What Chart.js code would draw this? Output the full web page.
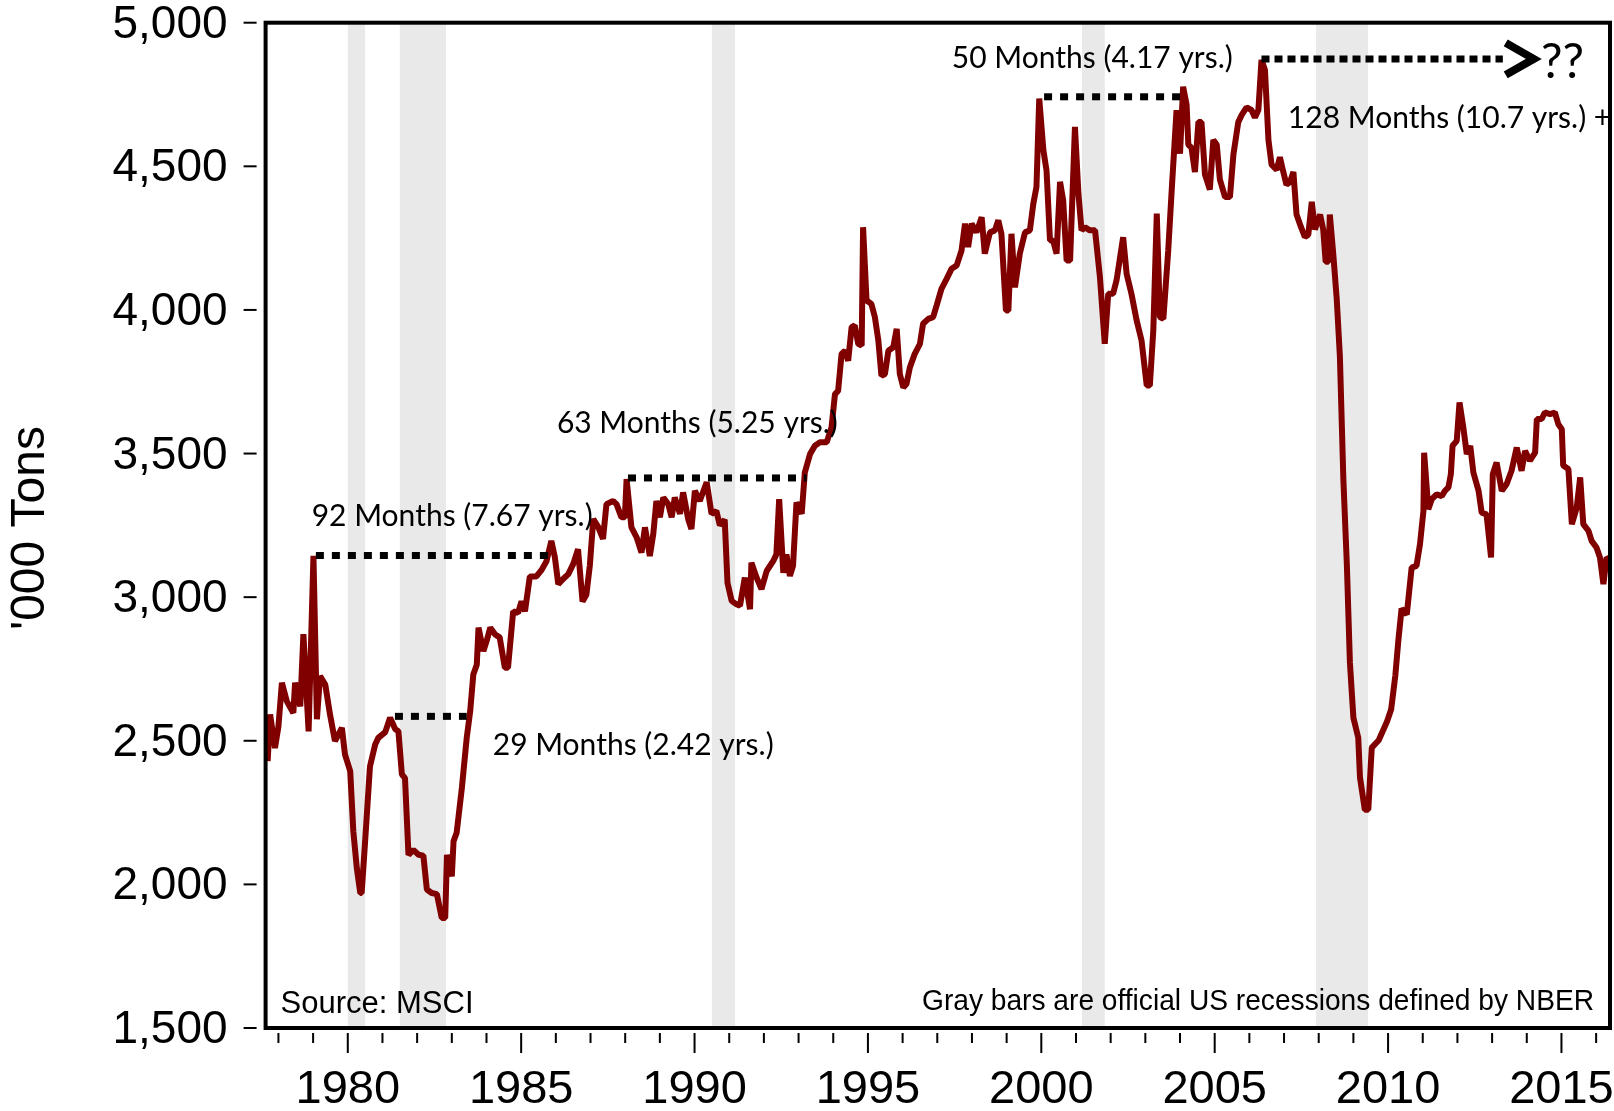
<!DOCTYPE html>
<html>
<head>
<meta charset="utf-8">
<title>'000 Tons</title>
<script src="https://cdn.jsdelivr.net/npm/chart.js@4.4.1/dist/chart.umd.min.js"></script>
<style>
  html, body { margin: 0; padding: 0; background: #fff; }
  .wrap { position: relative; width: 1614px; height: 1111px; }
</style>
</head>
<body>
<div class="wrap"><canvas id="tonsChart"></canvas></div>
<script>
// ── Data (decimal years, '000 tons) ──
const years = [
  1977.69, 1977.76, 1977.90, 1978.00, 1978.10, 1978.24, 1978.43, 1978.48, 1978.63, 1978.72,
  1978.87, 1979.01, 1979.11, 1979.20, 1979.35, 1979.49, 1979.63, 1979.83, 1979.92, 1980.07,
  1980.16, 1980.26, 1980.36, 1980.40, 1980.50, 1980.64, 1980.79, 1980.88, 1981.08, 1981.22,
  1981.37, 1981.46, 1981.56, 1981.65, 1981.75, 1981.89, 1982.04, 1982.18, 1982.28, 1982.42,
  1982.57, 1982.71, 1982.81, 1982.86, 1983.00, 1983.05, 1983.14, 1983.29, 1983.43, 1983.53,
  1983.62, 1983.72, 1983.77, 1983.91, 1984.01, 1984.11, 1984.25, 1984.38, 1984.53, 1984.62,
  1984.77, 1984.91, 1985.01, 1985.11, 1985.25, 1985.44, 1985.59, 1985.73, 1985.87, 1985.97,
  1986.07, 1986.21, 1986.36, 1986.50, 1986.64, 1986.77, 1986.88, 1986.98, 1987.08, 1987.22,
  1987.36, 1987.46, 1987.65, 1987.75, 1987.89, 1987.99, 1988.04, 1988.18, 1988.33, 1988.47,
  1988.57, 1988.71, 1988.81, 1988.90, 1989.00, 1989.10, 1989.24, 1989.34, 1989.43, 1989.58,
  1989.67, 1989.82, 1989.91, 1990.01, 1990.15, 1990.35, 1990.49, 1990.63, 1990.73, 1990.87,
  1990.95, 1991.07, 1991.21, 1991.31, 1991.45, 1991.60, 1991.64, 1991.79, 1991.93, 1992.08,
  1992.27, 1992.36, 1992.44, 1992.56, 1992.65, 1992.75, 1992.84, 1992.94, 1993.09, 1993.18,
  1993.33, 1993.47, 1993.61, 1993.81, 1993.95, 1994.05, 1994.14, 1994.24, 1994.34, 1994.43,
  1994.53, 1994.62, 1994.72, 1994.82, 1994.86, 1994.96, 1995.10, 1995.20, 1995.30, 1995.39,
  1995.49, 1995.59, 1995.73, 1995.83, 1995.92, 1996.02, 1996.11, 1996.21, 1996.35, 1996.50,
  1996.59, 1996.74, 1996.88, 1996.98, 1997.12, 1997.27, 1997.41, 1997.56, 1997.70, 1997.80,
  1997.89, 1997.99, 1998.13, 1998.28, 1998.37, 1998.52, 1998.66, 1998.76, 1998.85, 1998.98,
  1999.05, 1999.14, 1999.24, 1999.38, 1999.53, 1999.67, 1999.77, 1999.86, 1999.94, 2000.06,
  2000.15, 2000.25, 2000.34, 2000.44, 2000.54, 2000.63, 2000.73, 2000.83, 2000.97, 2001.07,
  2001.16, 2001.26, 2001.40, 2001.55, 2001.69, 2001.83, 2001.93, 2002.07, 2002.17, 2002.36,
  2002.46, 2002.60, 2002.75, 2002.89, 2003.04, 2003.13, 2003.23, 2003.33, 2003.42, 2003.52,
  2003.66, 2003.76, 2003.90, 2004.00, 2004.09, 2004.19, 2004.24, 2004.33, 2004.43, 2004.53,
  2004.62, 2004.72, 2004.86, 2004.96, 2005.06, 2005.15, 2005.30, 2005.44, 2005.54, 2005.68,
  2005.78, 2005.92, 2006.06, 2006.16, 2006.26, 2006.35, 2006.45, 2006.55, 2006.64, 2006.79,
  2006.88, 2006.98, 2007.07, 2007.17, 2007.27, 2007.36, 2007.46, 2007.60, 2007.70, 2007.80,
  2007.89, 2008.04, 2008.13, 2008.20, 2008.28, 2008.32, 2008.42, 2008.52, 2008.61, 2008.71,
  2008.81, 2008.90, 2009.00, 2009.14, 2009.19, 2009.33, 2009.43, 2009.53, 2009.73, 2009.97,
  2010.09, 2010.21, 2010.30, 2010.39, 2010.54, 2010.68, 2010.82, 2010.92, 2011.02, 2011.04,
  2011.16, 2011.26, 2011.40, 2011.55, 2011.64, 2011.74, 2011.81, 2011.86, 2011.98, 2012.06,
  2012.17, 2012.27, 2012.37, 2012.46, 2012.61, 2012.70, 2012.84, 2012.97, 2013.02, 2013.13,
  2013.28, 2013.42, 2013.56, 2013.71, 2013.85, 2013.95, 2014.09, 2014.24, 2014.29, 2014.43,
  2014.52, 2014.67, 2014.81, 2014.91, 2015.01, 2015.05, 2015.20, 2015.30, 2015.44, 2015.54,
  2015.63, 2015.78, 2015.87, 2016.01, 2016.11, 2016.21, 2016.30, 2016.40
];

const tons = [
  2429, 2592, 2475, 2550, 2702, 2638, 2597, 2702, 2620, 2871,
  2533, 3144, 2575, 2725, 2696, 2590, 2499, 2545, 2452, 2394,
  2185, 2057, 1970, 1970, 2150, 2411, 2487, 2510, 2530, 2580,
  2540, 2533, 2383, 2370, 2103, 2120, 2103, 2100, 1982, 1970,
  1966, 1883, 1883, 2103, 2028, 2150, 2180, 2336, 2510, 2603,
  2731, 2765, 2894, 2812, 2850, 2894, 2870, 2860, 2754, 2754,
  2951, 2945, 2985, 2951, 3072, 3072, 3095, 3125, 3196, 3140,
  3045, 3063, 3080, 3115, 3167, 2985, 3008, 3110, 3272, 3245,
  3203, 3324, 3335, 3324, 3278, 3278, 3411, 3243, 3208, 3155,
  3243, 3143, 3220, 3335, 3278, 3347, 3324, 3278, 3347, 3290,
  3365, 3270, 3237, 3370, 3335, 3400, 3290, 3300, 3250, 3270,
  3050, 2987, 2975, 2970, 3068, 2958, 3120, 3068, 3028, 3091,
  3126, 3149, 3341, 3085, 3149, 3074, 3109, 3330, 3290, 3434,
  3498, 3527, 3539, 3539, 3591, 3707, 3718, 3847, 3858, 3823,
  3940, 3946, 3882, 3876, 4288, 4033, 4021, 3975, 3894, 3771,
  3777, 3858, 3870, 3934, 3777, 3730, 3742, 3800, 3847, 3882,
  3952, 3969, 3975, 4015, 4073, 4108, 4143, 4155, 4207, 4300,
  4219, 4300, 4270, 4323, 4196, 4270, 4277, 4312, 4265, 3998,
  3998, 4265, 4079, 4196, 4270, 4277, 4370, 4428, 4736, 4556,
  4486, 4242, 4242, 4196, 4446, 4382, 4172, 4172, 4637, 4405,
  4277, 4288, 4277, 4277, 4115, 3882, 4056, 4056, 4103, 4253,
  4126, 4056, 3963, 3894, 3737, 3737, 3929, 4335, 3975, 3969,
  4207, 4416, 4695, 4544, 4777, 4714, 4575, 4565, 4480, 4654,
  4654, 4471, 4419, 4592, 4575, 4454, 4393, 4393, 4541, 4654,
  4679, 4705, 4696, 4670, 4696, 4870, 4835, 4592, 4506, 4488,
  4532, 4480, 4436, 4445, 4480, 4332, 4298, 4254, 4262, 4376,
  4280, 4332, 4280, 4168, 4168, 4332, 4194, 4037, 3840, 3413,
  3118, 2771, 2580, 2511, 2372, 2260, 2260, 2476, 2502, 2567,
  2610, 2728, 2854, 2960, 2940, 3103, 3109, 3184, 3300, 3503,
  3306, 3341, 3358, 3352, 3370, 3382, 3428, 3527, 3544, 3678,
  3591, 3498, 3527, 3434, 3370, 3294, 3288, 3138, 3428, 3469,
  3370, 3394, 3440, 3521, 3440, 3509, 3475, 3503, 3620, 3620,
  3643, 3637, 3643, 3602, 3585, 3458, 3446, 3254, 3312, 3417,
  3254, 3231, 3196, 3173, 3138, 3045, 3138, 3130
];

// NBER recessions (decimal years)
const recessionStart = [1980.0, 1981.5, 1990.5, 2001.17, 2007.92];
const recessionEnd   = [1980.5, 1982.83, 1991.17, 2001.83, 2009.42];

// Peak-to-recovery gaps
const gapFrom  = [1979.08, 1981.36, 1988.08, 2000.08, 2006.35];
const gapTo    = [1985.80, 1983.43, 1993.23, 2004.00, 2013.31];
const gapLevel = [3145, 2585, 3415, 4742, 4874];
const gapText  = [
  '92 Months (7.67 yrs.)',
  '29 Months (2.42 yrs.)',
  '63 Months (5.25 yrs.)',
  '50 Months (4.17 yrs.)',
  '128 Months (10.7 yrs.) +'
];

// Axis ticks
const yTicks = [1500, 2000, 2500, 3000, 3500, 4000, 4500, 5000];
const xMajor = [1980, 1985, 1990, 1995, 2000, 2005, 2010, 2015];
const xMinorFrom = 1978, xMinorTo = 2016;

const Y_MIN = 1500, Y_MAX = 5000;
const X_MIN = 1977.63, X_MAX = 2016.40;

// ── Helpers ──
const AXIS_FONT = '"Liberation Sans", Arial, sans-serif';
const NOTE_FONT = 'Lato, "Open Sans", sans-serif';

function fmt(v) {
  return v.toLocaleString('en-US');
}

// ── Recession shading ──
const recessionPlugin = {
  id: 'recessions',
  beforeDatasetsDraw(chart) {
    const { ctx, chartArea, scales } = chart;
    ctx.save();
    ctx.fillStyle = '#e9e9e9';
    recessionStart.forEach((s, i) => {
      const x0 = scales.x.getPixelForValue(s);
      const x1 = scales.x.getPixelForValue(recessionEnd[i]);
      ctx.fillRect(x0, chartArea.top, x1 - x0, chartArea.bottom - chartArea.top);
    });
    ctx.restore();
  }
};

// ── Frame, ticks, labels ──
const axesPlugin = {
  id: 'axesFrame',
  afterDatasetsDraw(chart) {
    const { ctx, chartArea, scales } = chart;
    const { left, right, top, bottom } = chartArea;
    ctx.save();

    // frame
    ctx.strokeStyle = '#000';
    ctx.lineWidth = 4;
    ctx.strokeRect(left, top, right - left, bottom - top);

    // y ticks + labels
    ctx.lineWidth = 2;
    ctx.fillStyle = '#000';
    ctx.font = '46px ' + AXIS_FONT;
    ctx.textAlign = 'right';
    ctx.textBaseline = 'alphabetic';
    yTicks.forEach(v => {
      const y = scales.y.getPixelForValue(v);
      ctx.beginPath();
      ctx.moveTo(left - 22, y);
      ctx.lineTo(left - 9, y);
      ctx.stroke();
      ctx.fillText(fmt(v), left - 38, y + 15);
    });

    // x ticks
    for (let yr = xMinorFrom; yr <= xMinorTo; yr++) {
      const x = scales.x.getPixelForValue(yr);
      const major = xMajor.includes(yr);
      ctx.beginPath();
      ctx.moveTo(x, bottom + 5);
      ctx.lineTo(x, bottom + (major ? 25 : 15));
      ctx.stroke();
    }

    // x labels
    ctx.textAlign = 'center';
    ctx.font = '47px ' + AXIS_FONT;
    xMajor.forEach(yr => {
      ctx.fillText(String(yr), scales.x.getPixelForValue(yr), bottom + 75);
    });

    // y title
    ctx.save();
    ctx.translate(44, 528);
    ctx.rotate(-Math.PI / 2);
    ctx.font = '48px ' + AXIS_FONT;
    ctx.textAlign = 'center';
    ctx.fillText("'000 Tons", 0, 0);
    ctx.restore();

    // footnotes
    ctx.font = '31px ' + AXIS_FONT;
    ctx.textAlign = 'left';
    ctx.fillText('Source: MSCI', left + 15, bottom - 15);
    ctx.font = '29px ' + AXIS_FONT;
    ctx.textAlign = 'right';
    ctx.fillText('Gray bars are official US recessions defined by NBER', right - 16, bottom - 18, 672);

    ctx.restore();
  }
};

// ── Gap annotations ──
// label anchors in data units: [year of left edge, value of text middle]
const gapLabelAt = [
  [1978.96, 3280],
  [1984.18, 2485],
  [1986.03, 3606],
  [1997.42, 4875],
  [2007.11, 4667]
];

const gapPlugin = {
  id: 'gaps',
  afterDatasetsDraw(chart) {
    const { ctx, scales } = chart;
    const sx = v => scales.x.getPixelForValue(v);
    const sy = v => scales.y.getPixelForValue(v);
    ctx.save();

    // dotted lines
    ctx.strokeStyle = '#000';
    ctx.lineWidth = 7;
    ctx.lineCap = 'butt';
    gapFrom.forEach((from, i) => {
      ctx.setLineDash(i === 4 ? [8, 5] : [8, 8]);
      ctx.beginPath();
      ctx.moveTo(sx(from), sy(gapLevel[i]));
      ctx.lineTo(sx(gapTo[i]), sy(gapLevel[i]));
      ctx.stroke();
    });
    ctx.setLineDash([]);

    // open-ended arrow on the last gap
    const tipX = sx(2014.2), yMid = sy(gapLevel[4]);
    ctx.lineWidth = 8;
    ctx.lineJoin = 'miter';
    ctx.beginPath();
    ctx.moveTo(tipX - 28, yMid - 16);
    ctx.lineTo(tipX, yMid);
    ctx.lineTo(tipX - 28, yMid + 16);
    ctx.stroke();

    // labels
    ctx.fillStyle = '#000';
    ctx.font = '30px ' + NOTE_FONT;
    ctx.textAlign = 'left';
    ctx.textBaseline = 'middle';
    gapText.forEach((t, i) => {
      ctx.fillText(t, sx(gapLabelAt[i][0]), sy(gapLabelAt[i][1]));
    });
    ctx.font = '48px ' + NOTE_FONT;
    ctx.fillText('??', sx(2014.41), sy(4860));

    ctx.restore();
  }
};

// ── Chart ──
function initTonsChart() {
  const ctx = document.getElementById('tonsChart').getContext('2d');
  new Chart(ctx, {
    type: 'line',
    data: {
      datasets: [{
        data: years.map((yr, i) => ({ x: yr, y: tons[i] })),
        borderColor: '#800000',
        borderWidth: 6,
        borderJoinStyle: 'bevel',
        tension: 0,
        pointRadius: 0,
        fill: false
      }]
    },
    options: {
      responsive: true,
      maintainAspectRatio: false,
      animation: false,
      layout: { padding: { left: 265.6, top: 22.7, right: 4, bottom: 83 } },
      plugins: {
        legend: { display: false },
        tooltip: { enabled: false }
      },
      scales: {
        x: { type: 'linear', min: X_MIN, max: X_MAX, display: false },
        y: { min: Y_MIN, max: Y_MAX, display: false }
      }
    },
    plugins: [recessionPlugin, axesPlugin, gapPlugin]
  });
}

document.addEventListener('DOMContentLoaded', initTonsChart);
</script>
</body>
</html>
